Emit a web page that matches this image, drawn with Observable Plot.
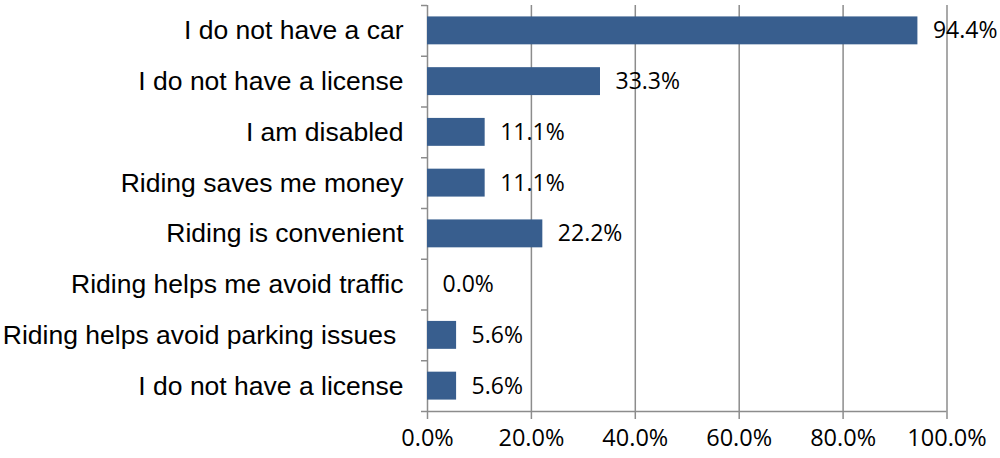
<!DOCTYPE html>
<html>
<head>
<meta charset="utf-8">
<script src="https://cdn.jsdelivr.net/npm/d3@7"></script>
<script src="https://cdn.jsdelivr.net/npm/@observablehq/plot@0.6"></script>
<style>
  html, body { margin: 0; padding: 0; background: #fff; }
</style>
</head>
<body>
<div id="chart"></div>
<script>
const categories = [
  "I do not have a car",
  "I do not have a license",
  "I am disabled",
  "Riding saves me money",
  "Riding is convenient",
  "Riding helps me avoid traffic",
  "Riding helps avoid parking issues\u00a0",
  "I do not have a license"
];
const values = [94.4, 33.3, 11.1, 11.1, 22.2, 0.0, 5.6, 5.6];
const xTicks = [0, 20, 40, 60, 80, 100];

const data = categories.map((label, i) => ({i, label, value: values[i]}));
const gray = "#8c8c8c";
const numFont = "'Open Sans', sans-serif";

const chart = Plot.plot({
  width: 1000,
  height: 458,
  marginLeft: 427,
  marginRight: 53.5,
  marginTop: 5,
  marginBottom: 47,
  style: {background: "#fff", color: "#000"},
  x: {domain: [0, 100]},
  y: {domain: [categories.length, 0]},
  marks: [
    Plot.gridX(xTicks.filter(d => d > 0), {stroke: gray, strokeOpacity: 1, strokeWidth: 1.5}),
    Plot.ruleX([0], {stroke: gray, strokeWidth: 1.5}),
    Plot.ruleY([categories.length], {stroke: gray, strokeWidth: 1.5}),
    Plot.rectX(data, {
      x1: 0, x2: "value",
      y1: d => d.i + 0.225, y2: d => d.i + 0.775,
      fill: "#385e8e"
    }),
    Plot.text(data, {
      x: "value", y: d => d.i + 0.5,
      text: d => d.value.toFixed(1) + "%",
      textAnchor: "start", dx: 15,
      fontSize: 23, fontFamily: numFont, fill: "#000"
    }),
    Plot.axisX({
      ticks: xTicks, tickSize: 8, tickPadding: 10,
      tickFormat: d => d.toFixed(1) + "%",
      stroke: gray, strokeWidth: 1.5, fill: "#000",
      fontSize: 23.5, fontFamily: numFont, label: null
    }),
    Plot.axisY({
      ticks: d3.range(categories.length + 1), tickSize: 6,
      tickFormat: () => "", stroke: gray, strokeWidth: 1.5, label: null
    }),
    Plot.axisY({
      ticks: d3.range(categories.length).map(i => i + 0.5),
      tickSize: 0, tickPadding: 24,
      tickFormat: d => categories[Math.round(d - 0.5)],
      fontSize: 26.5, fontFamily: "'Liberation Sans', Arial, sans-serif",
      fill: "#000", label: null
    })
  ]
});
document.getElementById("chart").appendChild(chart);
</script>
</body>
</html>
